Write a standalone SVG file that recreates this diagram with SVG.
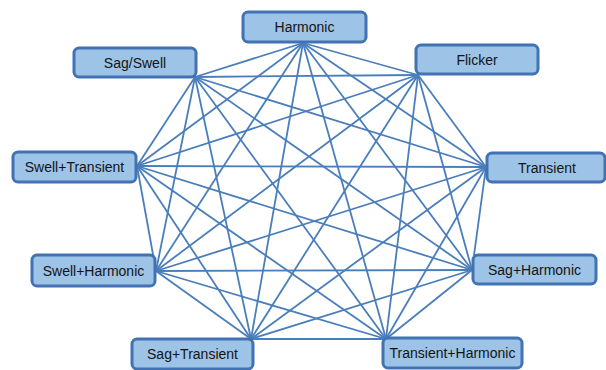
<svg xmlns="http://www.w3.org/2000/svg" width="606" height="370" viewBox="0 0 606 370">
<style>
.edge{stroke:#4a7ebb;stroke-width:1.8;fill:none}
.box{fill:#9dc3e6;stroke:#4072b4;stroke-width:3}
.lbl{font-family:"Liberation Sans",Arial,sans-serif;font-size:14px;fill:#141414;text-anchor:middle}
</style>
<rect width="606" height="370" fill="#ffffff"/>
<g id="connectors">
<line class="edge" x1="303" y1="43" x2="418" y2="75"/>
<line class="edge" x1="303" y1="43" x2="486" y2="167"/>
<line class="edge" x1="303" y1="43" x2="472" y2="270"/>
<line class="edge" x1="303" y1="43" x2="386" y2="339"/>
<line class="edge" x1="303" y1="43" x2="251" y2="339"/>
<line class="edge" x1="303" y1="43" x2="156" y2="271"/>
<line class="edge" x1="303" y1="43" x2="137" y2="166"/>
<line class="edge" x1="303" y1="43" x2="195" y2="77"/>
<line class="edge" x1="418" y1="75" x2="486" y2="167"/>
<line class="edge" x1="418" y1="75" x2="472" y2="270"/>
<line class="edge" x1="418" y1="75" x2="386" y2="339"/>
<line class="edge" x1="418" y1="75" x2="251" y2="339"/>
<line class="edge" x1="418" y1="75" x2="156" y2="271"/>
<line class="edge" x1="418" y1="75" x2="137" y2="166"/>
<line class="edge" x1="418" y1="75" x2="195" y2="77"/>
<line class="edge" x1="486" y1="167" x2="472" y2="270"/>
<line class="edge" x1="486" y1="167" x2="386" y2="339"/>
<line class="edge" x1="486" y1="167" x2="251" y2="339"/>
<line class="edge" x1="486" y1="167" x2="156" y2="271"/>
<line class="edge" x1="486" y1="167" x2="137" y2="166"/>
<line class="edge" x1="486" y1="167" x2="195" y2="77"/>
<line class="edge" x1="472" y1="270" x2="386" y2="339"/>
<line class="edge" x1="472" y1="270" x2="251" y2="339"/>
<line class="edge" x1="472" y1="270" x2="156" y2="271"/>
<line class="edge" x1="472" y1="270" x2="137" y2="166"/>
<line class="edge" x1="472" y1="270" x2="195" y2="77"/>
<line class="edge" x1="386" y1="339" x2="251" y2="339"/>
<line class="edge" x1="386" y1="339" x2="156" y2="271"/>
<line class="edge" x1="386" y1="339" x2="137" y2="166"/>
<line class="edge" x1="386" y1="339" x2="195" y2="77"/>
<line class="edge" x1="251" y1="339" x2="156" y2="271"/>
<line class="edge" x1="251" y1="339" x2="137" y2="166"/>
<line class="edge" x1="251" y1="339" x2="195" y2="77"/>
<line class="edge" x1="156" y1="271" x2="137" y2="166"/>
<line class="edge" x1="156" y1="271" x2="195" y2="77"/>
<line class="edge" x1="137" y1="166" x2="195" y2="77"/>
</g>
<g id="harmonic"><rect class="box" x="243" y="12" width="123" height="30" rx="5"/><text class="lbl" x="304.5" y="32">Harmonic</text></g>
<g id="sag-swell"><rect class="box" x="74" y="48" width="122" height="29" rx="5"/><text class="lbl" x="135" y="67.5">Sag/Swell</text></g>
<g id="flicker"><rect class="box" x="416" y="45" width="122" height="29" rx="5"/><text class="lbl" x="477" y="64.5">Flicker</text></g>
<g id="swell-transient"><rect class="box" x="13" y="152" width="123" height="30" rx="5"/><text class="lbl" x="74.5" y="172">Swell+Transient</text></g>
<g id="transient"><rect class="box" x="487" y="153" width="118" height="29" rx="5"/><text class="lbl" x="547" y="172.5">Transient</text></g>
<g id="swell-harmonic"><rect class="box" x="32" y="255" width="123" height="31" rx="5"/><text class="lbl" x="93.5" y="275.5">Swell+Harmonic</text></g>
<g id="sag-harmonic"><rect class="box" x="473" y="255" width="123" height="29" rx="5"/><text class="lbl" x="534.5" y="274.5">Sag+Harmonic</text></g>
<g id="sag-transient"><rect class="box" x="132" y="339" width="121" height="30" rx="5"/><text class="lbl" x="192.5" y="359">Sag+Transient</text></g>
<g id="transient-harmonic"><rect class="box" x="383" y="338" width="139" height="30" rx="5"/><text class="lbl" x="452.5" y="358">Transient+Harmonic</text></g>
</svg>
